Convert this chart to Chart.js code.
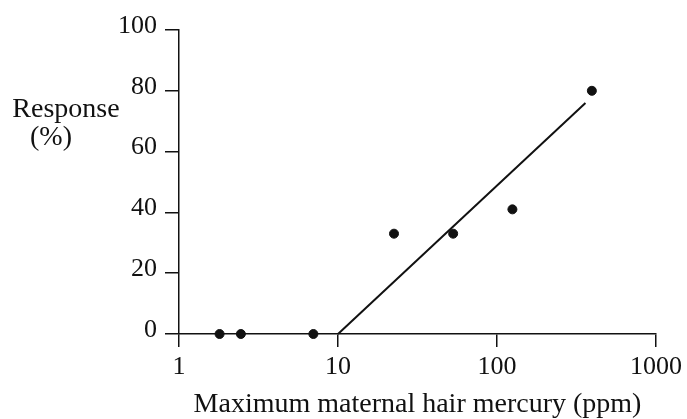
<!DOCTYPE html>
<html>
<head>
<meta charset="utf-8">
<script src="https://cdn.jsdelivr.net/npm/chart.js@4/dist/chart.umd.min.js"></script>
<style>
  html, body { margin: 0; padding: 0; background: #fff; }
  #wrap { width: 687px; height: 419px; }
</style>
</head>
<body>
<div id="wrap"><canvas id="chart"></canvas></div>
<script>
// data
const hairMercury = [1.8, 2.45, 7.0, 22.5, 53, 125, 395]
const response = [0, 0, 0, 33, 33, 41, 80]
const fitX = [10, 360]
const fitY = [0, 76]
const xTicks = [1, 10, 100, 1000]
const yTicks = [0, 20, 40, 60, 80, 100]
const yTitle = ["Response", "(%)"]
const xTitle = "Maximum maternal hair mercury (ppm)"

const ink = "#111"
const serif = "'Liberation Serif', 'DejaVu Serif', serif"

// the y title sits flat, left of the axis
const sideTitle = {
    id: "sideTitle",
    afterDraw(chart) {
        const ctx = chart.ctx
        ctx.save()
        ctx.fillStyle = ink
        ctx.font = "28px " + serif
        ctx.textAlign = "center"
        ctx.textBaseline = "alphabetic"
        ctx.fillText(yTitle[0], 66, 117)
        ctx.fillText(yTitle[1], 51, 145)
        ctx.restore()
    }
}

const points = hairMercury.map((x, i) => ({ x: x, y: response[i] }))
const fit = fitX.map((x, i) => ({ x: x, y: fitY[i] }))

new Chart(document.querySelector("#chart"), {
    type: "scatter",
    data: {
        datasets: [{
            data: points,
            backgroundColor: ink,
            borderColor: ink,
            pointRadius: 4.5,
            clip: false
        }, {
            data: fit,
            showLine: true,
            borderColor: ink,
            borderWidth: 2,
            pointRadius: 0,
            clip: false
        }]
    },
    options: {
        responsive: true,
        maintainAspectRatio: false,
        animation: false,
        layout: { padding: { top: 30, right: 30, bottom: 0, left: 0 } },
        plugins: { legend: { display: false }, tooltip: { enabled: false } },
        scales: {
            x: {
                type: "logarithmic",
                min: 1,
                max: 1000,
                afterBuildTicks: (axis) => { axis.ticks = xTicks.map((v) => ({ value: v })) },
                afterFit: (scale) => { scale.height = 85 },
                border: { display: true, color: ink, width: 1.5 },
                grid: { drawOnChartArea: false, drawTicks: true, tickLength: 13, color: ink, lineWidth: 1.5 },
                ticks: {
                    color: ink,
                    font: { family: serif, size: 26 },
                    padding: 5,
                    maxRotation: 0,
                    callback: (v) => String(v)
                },
                title: {
                    display: true,
                    text: xTitle,
                    color: ink,
                    font: { family: serif, size: 28, lineHeight: 1 },
                    padding: { top: 0, bottom: 0 }
                }
            },
            y: {
                min: 0,
                max: 100,
                afterBuildTicks: (axis) => { axis.ticks = yTicks.map((v) => ({ value: v })) },
                afterFit: (scale) => { scale.width = 179 },
                border: { display: true, color: ink, width: 1.5 },
                grid: { drawOnChartArea: false, drawTicks: true, tickLength: 14, color: ink, lineWidth: 1.5 },
                ticks: {
                    color: ink,
                    font: { family: serif, size: 26 },
                    padding: 8,
                    labelOffset: -4
                }
            }
        }
    },
    plugins: [sideTitle]
})
</script>
</body>
</html>
